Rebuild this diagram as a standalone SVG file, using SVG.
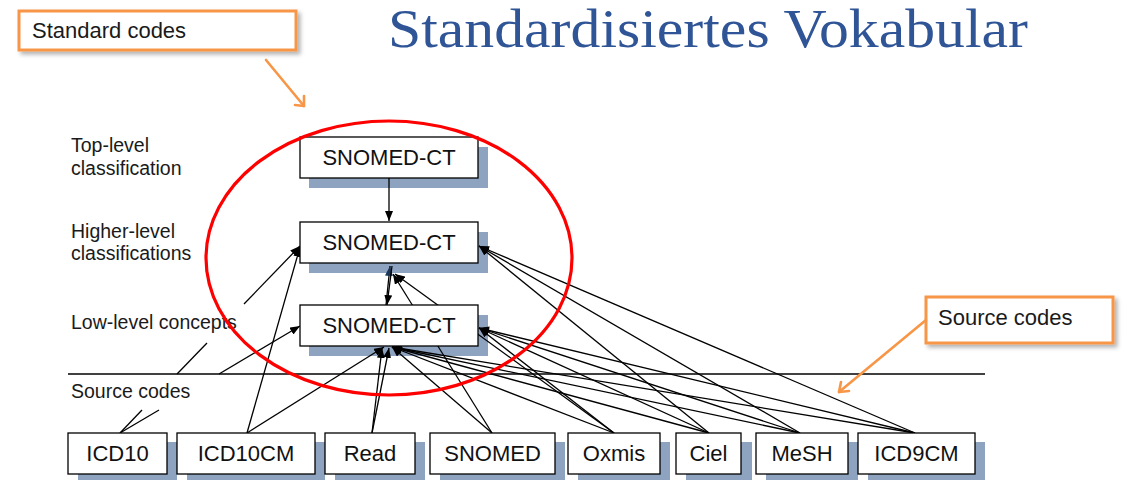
<svg xmlns="http://www.w3.org/2000/svg" width="1130" height="480" viewBox="0 0 1130 480">
  <defs>
    <style>
      .title { font-family: "Liberation Serif", "Times New Roman", serif; font-size: 55px; fill: #2f5597; }
      .lbl { font-family: "Liberation Sans", Arial, sans-serif; font-size: 19.5px; fill: #1a1a1a; }
      .call { font-family: "Liberation Sans", Arial, sans-serif; font-size: 22px; fill: #1a1a1a; }
      .ntxt { font-family: "Liberation Sans", Arial, sans-serif; font-size: 22px; fill: #111; text-anchor: middle; }
      .box { fill: #ffffff; stroke: #000000; stroke-width: 1.3; }
      .shadow { fill: #8ea3c0; }
      .callbox { fill: #ffffff; stroke: #f79646; stroke-width: 3; }
      .orange { stroke: #f79646; stroke-width: 2.6; fill: none; stroke-linecap: round; stroke-linejoin: round; }
      .edge { stroke: #000000; stroke-width: 1.3; fill: none; }
      .arr { marker-end: url(#ah); }
    </style>
    <marker id="ah" markerUnits="userSpaceOnUse" markerWidth="10" markerHeight="8" refX="10" refY="4" orient="auto">
      <path d="M0,0 L10,4 L0,8 Z" fill="#000000"/>
    </marker>
    <marker id="ahNavy" markerUnits="userSpaceOnUse" markerWidth="10" markerHeight="8" refX="10" refY="4" orient="auto">
      <path d="M0,0 L10,4 L0,8 Z" fill="#1c3656"/>
    </marker>
    <filter id="soft" x="-10%" y="-30%" width="130%" height="170%">
      <feDropShadow dx="3" dy="3" stdDeviation="2" flood-color="#000000" flood-opacity="0.3"/>
    </filter>
  </defs>

  <rect width="1130" height="480" fill="#ffffff"/>

  <!-- heading -->
  <text class="title" x="388" y="47" textLength="640" lengthAdjust="spacingAndGlyphs">Standardisiertes Vokabular</text>

  <!-- level labels on the left -->
  <g id="level-labels">
    <text class="lbl" x="71" y="152">Top-level</text>
    <text class="lbl" x="71" y="175">classification</text>
    <text class="lbl" x="71" y="238">Higher-level</text>
    <text class="lbl" x="71" y="260">classifications</text>
    <text class="lbl" x="71" y="329">Low-level concepts</text>
    <text class="lbl" x="71" y="398">Source codes</text>
  </g>

  <!-- separator between standard and source layers -->
  <line x1="68" y1="374" x2="985" y2="374" stroke="#000" stroke-width="1.3"/>

  <!-- box shadows -->
  <g id="shadows">
    <rect class="shadow" x="309" y="147" width="179" height="41"/>
    <rect class="shadow" x="309" y="232" width="179" height="41"/>
    <rect class="shadow" x="309" y="315" width="179" height="41"/>
    <rect class="shadow" x="78" y="442" width="99" height="41"/>
    <rect class="shadow" x="187" y="442" width="138" height="41"/>
    <rect class="shadow" x="335" y="442" width="90" height="41"/>
    <rect class="shadow" x="440" y="442" width="125" height="41"/>
    <rect class="shadow" x="578" y="442" width="92" height="41"/>
    <rect class="shadow" x="686" y="442" width="66" height="41"/>
    <rect class="shadow" x="766" y="442" width="92" height="41"/>
    <rect class="shadow" x="868" y="442" width="117" height="41"/>
  </g>

  <!-- mappings -->
  <g id="connectors">
    <path class="edge arr" d="M389,178 L389,221"/>
    <!-- ICD10, broken where the labels sit -->
    <path class="edge" d="M120,433 L142,410"/>
    <path class="edge" d="M177,374 L207,343"/>
    <path class="edge arr" d="M244,304 L300,246"/>
    <path class="edge" d="M120,433 L159,410"/>
    <path class="edge arr" d="M219,374 L300,326"/>
    <!-- ICD10CM -->
    <path class="edge arr" d="M247,433 L300,247"/>
    <path class="edge arr" d="M247,433 L384,347"/>
    <!-- Read -->
    <path class="edge arr" d="M372,433 L382,348"/>
    <path class="edge arr" d="M372,433 L389,348"/>
    <!-- SNOMED -->
    <path class="edge arr" d="M492,433 L392,347"/>
    <path class="edge arr" d="M492,433 L393,274"/>
    <!-- Oxmis -->
    <path class="edge arr" d="M614,433 L392,347"/>
    <path class="edge arr" d="M614,433 L395,274"/>
    <path class="edge arr" d="M614,433 L479,328"/>
    <!-- Ciel -->
    <path class="edge arr" d="M709,433 L392,347"/>
    <path class="edge arr" d="M709,433 L479,328"/>
    <path class="edge arr" d="M709,433 L479,246"/>
    <!-- MeSH -->
    <path class="edge arr" d="M800,433 L392,347"/>
    <path class="edge arr" d="M800,433 L479,328"/>
    <path class="edge arr" d="M800,433 L479,246"/>
    <!-- ICD9CM -->
    <path class="edge arr" d="M915,433 L392,347"/>
    <path class="edge arr" d="M915,433 L479,328"/>
    <path class="edge arr" d="M915,433 L479,246"/>
    <!-- between low-level and higher-level -->
    <path class="edge" d="M386,305 L390,266" marker-end="url(#ahNavy)"/>
    <path class="edge arr" d="M392,266 L387,305"/>
  </g>

  <!-- standard code nodes -->
  <g id="snomed-top">
    <rect class="box" x="300" y="137" width="178" height="41"/>
    <text class="ntxt" x="389" y="165">SNOMED-CT</text>
  </g>
  <g id="snomed-higher">
    <rect class="box" x="300" y="222" width="178" height="41"/>
    <text class="ntxt" x="389" y="250">SNOMED-CT</text>
  </g>
  <g id="snomed-low">
    <rect class="box" x="300" y="305" width="178" height="41"/>
    <text class="ntxt" x="389" y="333">SNOMED-CT</text>
  </g>

  <!-- source code nodes -->
  <g id="src-icd10">
    <rect class="box" x="68" y="433" width="99" height="41"/>
    <text class="ntxt" x="117.5" y="461">ICD10</text>
  </g>
  <g id="src-icd10cm">
    <rect class="box" x="177" y="433" width="138" height="41"/>
    <text class="ntxt" x="246" y="461">ICD10CM</text>
  </g>
  <g id="src-read">
    <rect class="box" x="325" y="433" width="90" height="41"/>
    <text class="ntxt" x="370" y="461">Read</text>
  </g>
  <g id="src-snomed">
    <rect class="box" x="430" y="433" width="125" height="41"/>
    <text class="ntxt" x="492.5" y="461">SNOMED</text>
  </g>
  <g id="src-oxmis">
    <rect class="box" x="568" y="433" width="92" height="41"/>
    <text class="ntxt" x="614" y="461">Oxmis</text>
  </g>
  <g id="src-ciel">
    <rect class="box" x="676" y="433" width="65" height="41"/>
    <text class="ntxt" x="708.5" y="461">Ciel</text>
  </g>
  <g id="src-mesh">
    <rect class="box" x="756" y="433" width="92" height="41"/>
    <text class="ntxt" x="802" y="461">MeSH</text>
  </g>
  <g id="src-icd9cm">
    <rect class="box" x="858" y="433" width="117" height="41"/>
    <text class="ntxt" x="916.5" y="461">ICD9CM</text>
  </g>

  <!-- grouping ring around the standard codes -->
  <ellipse cx="389" cy="258" rx="183" ry="137" fill="none" stroke="#ff0000" stroke-width="3.2"/>

  <!-- callouts -->
  <g id="callout-standard">
    <rect class="callbox" x="19" y="11" width="277" height="39" filter="url(#soft)"/>
    <text class="call" x="32" y="38">Standard codes</text>
    <path class="orange" d="M266,60 L304,106"/>
    <path class="orange" d="M295,105 L304,106 L304,96"/>
  </g>
  <g id="callout-source">
    <rect class="callbox" x="926" y="297" width="187" height="46" filter="url(#soft)"/>
    <text class="call" x="938" y="325">Source codes</text>
    <path class="orange" d="M926,320 L839,392"/>
    <path class="orange" d="M841,382 L839,392 L849,391"/>
  </g>
</svg>
